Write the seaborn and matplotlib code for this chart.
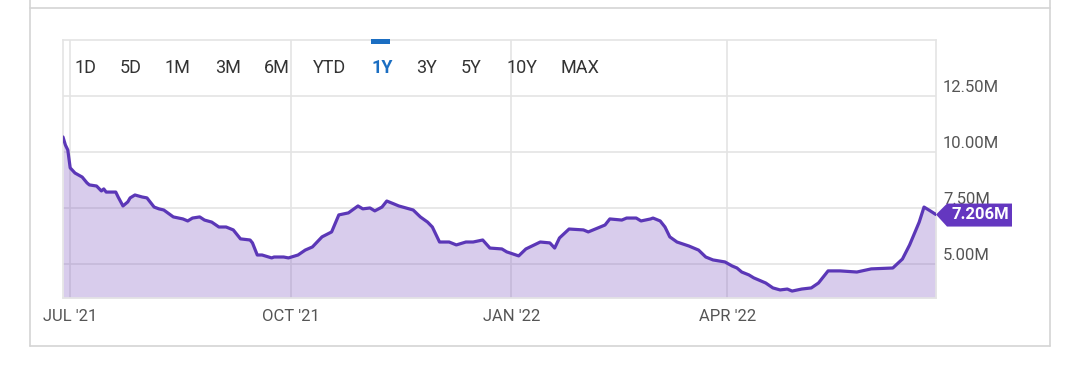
import matplotlib
matplotlib.use("Agg")
import matplotlib.pyplot as plt
import matplotlib.dates as mdates
import matplotlib.transforms as mtransforms
from matplotlib.patches import Polygon, Rectangle
from matplotlib.lines import Line2D
import pandas as pd
import seaborn as sns

# values (millions)
dates = [
    "2021-06-28", "2021-06-29", "2021-06-30", "2021-07-01", "2021-07-03", "2021-07-06",
    "2021-07-08", "2021-07-09", "2021-07-12", "2021-07-14", "2021-07-15", "2021-07-16",
    "2021-07-20", "2021-07-21", "2021-07-23", "2021-07-25", "2021-07-26", "2021-07-28",
    "2021-07-31", "2021-08-02", "2021-08-05", "2021-08-07", "2021-08-09", "2021-08-13",
    "2021-08-17", "2021-08-19", "2021-08-21", "2021-08-24", "2021-08-26", "2021-08-29",
    "2021-09-01", "2021-09-04", "2021-09-07", "2021-09-10", "2021-09-14", "2021-09-15",
    "2021-09-17", "2021-09-19", "2021-09-23", "2021-09-24", "2021-09-28", "2021-09-30",
    "2021-10-04", "2021-10-07", "2021-10-10", "2021-10-14", "2021-10-18", "2021-10-21",
    "2021-10-25", "2021-10-29", "2021-10-31", "2021-11-03", "2021-11-05", "2021-11-08",
    "2021-11-10", "2021-11-13", "2021-11-15", "2021-11-18", "2021-11-21", "2021-11-24",
    "2021-11-27", "2021-11-29", "2021-12-02", "2021-12-06", "2021-12-09", "2021-12-13",
    "2021-12-16", "2021-12-20", "2021-12-23", "2021-12-28", "2021-12-30", "2022-01-04",
    "2022-01-07", "2022-01-13", "2022-01-17", "2022-01-19", "2022-01-21", "2022-01-25",
    "2022-01-31", "2022-02-02", "2022-02-07", "2022-02-09", "2022-02-11", "2022-02-16",
    "2022-02-18", "2022-02-22", "2022-02-24", "2022-02-28", "2022-03-01", "2022-03-04",
    "2022-03-06", "2022-03-08", "2022-03-11", "2022-03-16", "2022-03-20", "2022-03-23",
    "2022-03-26", "2022-03-31", "2022-04-03", "2022-04-05", "2022-04-07", "2022-04-10",
    "2022-04-12", "2022-04-17", "2022-04-20", "2022-04-23", "2022-04-26", "2022-04-28",
    "2022-05-02", "2022-05-06", "2022-05-09", "2022-05-13", "2022-05-18", "2022-05-25",
    "2022-05-31", "2022-06-09", "2022-06-13", "2022-06-16", "2022-06-20", "2022-06-22",
    "2022-06-24", "2022-06-27",
]
volume_m = [
    10.67, 10.31, 10.09, 9.29, 9.06, 8.88,
    8.62, 8.53, 8.48, 8.26, 8.35, 8.21,
    8.21, 7.99, 7.59, 7.77, 7.95, 8.08,
    7.99, 7.95, 7.54, 7.46, 7.41, 7.10,
    7.01, 6.92, 7.05, 7.10, 6.96, 6.87,
    6.65, 6.65, 6.52, 6.12, 6.07, 5.94,
    5.40, 5.40, 5.27, 5.31, 5.31, 5.27,
    5.40, 5.62, 5.76, 6.21, 6.43, 7.19,
    7.28, 7.59, 7.46, 7.50, 7.37, 7.54,
    7.81, 7.68, 7.59, 7.50, 7.41, 7.10,
    6.87, 6.65, 5.98, 5.98, 5.85, 5.98,
    5.98, 6.07, 5.71, 5.67, 5.54, 5.36,
    5.67, 5.98, 5.94, 5.71, 6.16, 6.56,
    6.52, 6.43, 6.65, 6.74, 7.01, 6.96,
    7.05, 7.05, 6.92, 7.01, 7.05, 6.92,
    6.65, 6.21, 5.98, 5.80, 5.62, 5.31,
    5.18, 5.09, 4.91, 4.82, 4.64, 4.51,
    4.38, 4.15, 3.93, 3.84, 3.88, 3.79,
    3.88, 3.93, 4.15, 4.69, 4.69, 4.64,
    4.78, 4.82, 5.22, 5.85, 6.87, 7.54,
    7.41, 7.206,
]
tick_dates = ["2021-07-01", "2021-10-01", "2022-01-01", "2022-04-01"]
tick_labels = ["JUL '21", "OCT '21", "JAN '22", "APR '22"]
y_ticks = [5.0, 7.5, 10.0, 12.5]
y_labels = ["5.00M", "7.50M", "10.00M", "12.50M"]
ranges = ["1D", "5D", "1M", "3M", "6M", "YTD", "1Y", "3Y", "5Y", "10Y", "MAX"]
active_range = "1Y"
last_label = "7.206M"

sns.set_theme(style="white")
plt.rcParams["font.family"] = ["Roboto", "DejaVu Sans"]

W, H = 1076, 375
grid_col = "#e4e4e4"
line_col = "#5b37b7"
badge_col = "#6437c0"
blue = "#1b6ec2"

fig = plt.figure(figsize=(W / 100, H / 100), dpi=100)
fig.patch.set_facecolor("white")
ax = fig.add_axes([63 / W, 1 - 298 / H, (936 - 63) / W, (298 - 40) / H])

df = pd.DataFrame({"date": pd.to_datetime(dates), "volume": volume_m})
ymin, ymax = 3.48, 15.0

ax.fill_between(df["date"], df["volume"], ymin, color="#7e57c2", alpha=0.3, lw=0, zorder=1)
sns.lineplot(data=df, x="date", y="volume", color=line_col, lw=2.3, ax=ax, zorder=3)
ax.set_xlim(df["date"].iloc[0], df["date"].iloc[-1])
ax.set_ylim(ymin, ymax)
ax.set_xlabel("")
ax.set_ylabel("")

ax.set_xticks(pd.to_datetime(tick_dates))
ax.set_xticklabels(tick_labels, fontsize=12, color="#555555")
ax.tick_params(axis="x", length=0, pad=8)
ax.set_yticks(y_ticks)
ax.set_yticklabels([])
ax.tick_params(axis="y", length=0)
ax.grid(True, color=grid_col, lw=1.2)
ax.set_axisbelow(True)
for s in ax.spines.values():
    s.set_color(grid_col)
    s.set_linewidth(1.2)

# value labels on the right, sitting just above their gridline
trans = mtransforms.blended_transform_factory(ax.transAxes, ax.transData)
shift = mtransforms.ScaledTranslation(7 / 100, 4 / 100, fig.dpi_scale_trans)
for v, lab in zip(y_ticks, y_labels):
    ax.text(1.0, v, lab, transform=trans + shift, ha="left", va="baseline",
            fontsize=12, color="#555555", clip_on=False)

# range buttons
button_x = [75, 120, 165, 215, 264, 313, 371, 416, 461, 506, 561]
for bx, r in zip(button_x, ranges):
    on = r == active_range
    fig.text(bx / W, 1 - 68 / H, r, ha="left", va="center",
             fontsize=13, color=blue if on else "#333333",
             fontweight="bold" if on else "normal")
    if on:
        fig.add_artist(Rectangle((bx / W, 1 - 44 / H), 19 / W, 5 / H,
                                 transform=fig.transFigure, color=blue, lw=0))

# last value badge
tip = ax.transData.transform((mdates.date2num(df["date"].iloc[-1]), volume_m[-1]))
verts = [(0, 0), (11, 11), (76, 11), (76, -12), (11, -12)]
badge = Polygon([(tip[0] + dx, tip[1] + dy) for dx, dy in verts],
                closed=True, transform=mtransforms.IdentityTransform(),
                fc=badge_col, ec="none", zorder=5)
fig.add_artist(badge)
fig.text(tip[0] + 44, tip[1], last_label, transform=mtransforms.IdentityTransform(),
         ha="center", va="center", color="white", fontsize=12, fontweight="bold",
         zorder=6)

# card border
card = "#d4d4d4"
for x0, y0, x1, y1 in [(30, 0, 30, 346), (1050, 0, 1050, 346),
                       (30, 8, 1050, 8), (30, 346, 1050, 346)]:
    fig.add_artist(Line2D([x0 / W, x1 / W], [1 - y0 / H, 1 - y1 / H],
                          transform=fig.transFigure, color=card, lw=1.2))

fig.savefig("out.png", dpi=100)
